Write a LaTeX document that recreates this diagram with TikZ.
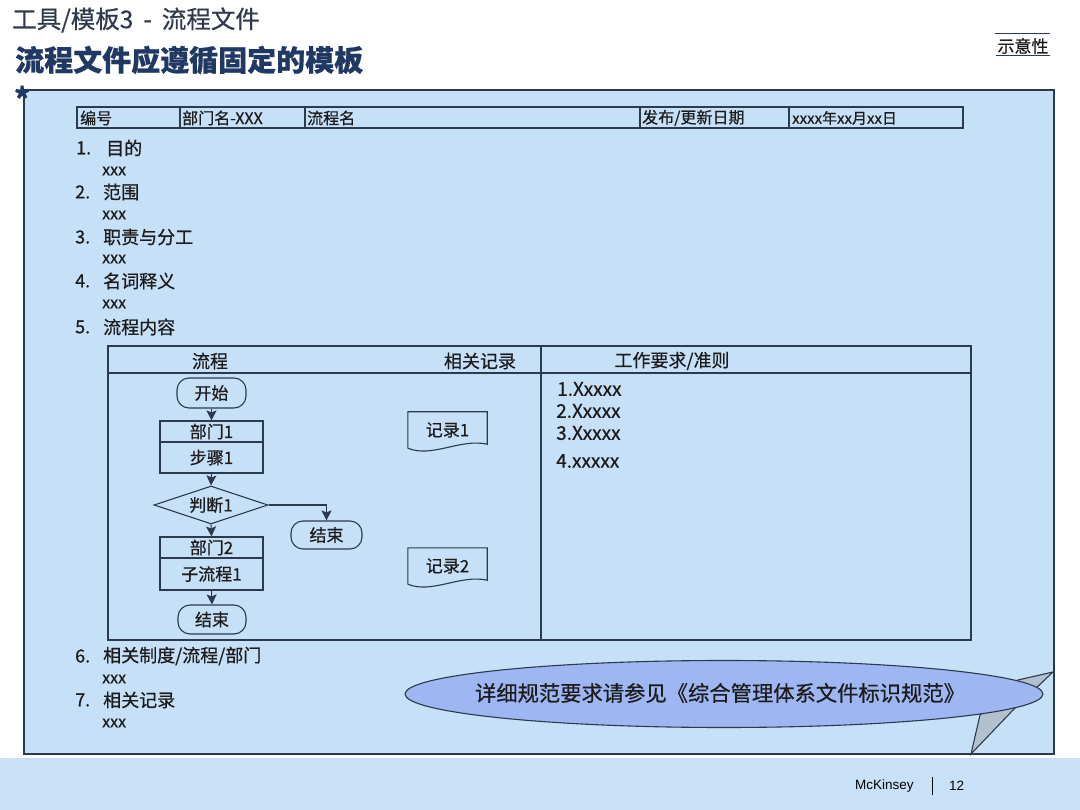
\documentclass[tikz,border=0pt]{standalone}
\usepackage{fontspec}
\setmainfont{Noto Sans CJK SC}[FakeBold=0.6]
\newfontfamily\arialf{Liberation Sans}
\usetikzlibrary{shapes.geometric,arrows.meta,calc}
\definecolor{boxfill}{HTML}{C6E0F8}
\definecolor{bandfill}{HTML}{C9E1F7}
\definecolor{ellfill}{HTML}{9EB6F2}
\definecolor{tailfill}{HTML}{B3C0CE}
\definecolor{linec}{HTML}{2B3A4C}
\definecolor{txtc}{HTML}{1C1C1C}
\definecolor{titlea}{HTML}{2F3B4C}
\definecolor{titleb}{HTML}{1F3864}
\newcommand\myfs[1]{\fontsize{#1}{#1}\selectfont}
\begin{document}
\begin{tikzpicture}[x=1pt,y=-1pt,
  line/.style={draw=linec, line width=1.1pt},
  txt/.style={anchor=west, inner sep=0, text=txtc},
  ctxt/.style={inner sep=0, text=txtc},
  flowbox/.style={draw=linec, line width=1.1pt, fill=boxfill, minimum width=103pt, inner sep=0, text=txtc, font=\myfs{17pt}},
  term/.style={draw=linec, line width=1.1pt, rounded corners=12pt, inner sep=0, text=txtc, font=\myfs{17pt}},
  rec/.style={minimum width=79pt, minimum height=36pt, inner sep=0, text=txtc, font=\myfs{17pt}},
  arr/.style={draw=linec, line width=1.1pt, -{Stealth[length=10pt,width=10pt,inset=2pt]}}
]
\useasboundingbox (0,0) rectangle (1080,810);
\fill[white] (0,0) rectangle (1080,810);
\fill[bandfill] (0,758) rectangle (1080,810);

% main box
\draw[line, line width=1.4pt, fill=boxfill] (24,90) rectangle (1054,754);

% titles
\node[txt, text=titlea, font=\myfs{24.5pt}] (t1) at (12,20) {工具/模板3\hspace{10pt}-\hspace{10pt}流程文件};
\node[txt, text=titleb, font=\bfseries\myfs{29pt}] (t2) at (15,60) {流程文件应遵循固定的模板};
\node[txt, text=titleb, font=\bfseries\myfs{30pt}] (star) at (14,98) {*};
\node[ctxt, font=\myfs{17pt}] (demo) at (1023,46) {示意性};
\draw[linec, line width=0.8pt] (995,33) -- (1050,33);
\draw[linec, line width=0.6pt] (996,55) -- (1050,55);

% header table
\draw[line, line width=1.4pt] (77,107) rectangle (963,128);
\foreach \x in {180,305,640,789} \draw[line] (\x,107) -- (\x,128);
\node[txt, font=\myfs{16pt}] (h1) at (80,118) {编号};
\node[txt, font=\myfs{16pt}] (h2) at (182,118) {部门名-XXX};
\node[txt, font=\myfs{16pt}] (h3) at (307,118) {流程名};
\node[txt, font=\myfs{16pt}] (h4) at (642,118) {发布/更新日期};
\node[txt, font=\myfs{15pt}] (h5) at (792,118) {xxxx年xx月xx日};

% list
\node[txt, font=\myfs{18pt}] (n1) at (76,148) {1.};
\node[txt, font=\myfs{18pt}] (l1) at (106,148) {目的};
\node[txt, font=\myfs{16pt}] (x1) at (102,171) {xxx};
\node[txt, font=\myfs{18pt}] (n2) at (75,192) {2.};
\node[txt, font=\myfs{18pt}] (l2) at (103,192) {范围};
\node[txt, font=\myfs{16pt}] (x2) at (102,215) {xxx};
\node[txt, font=\myfs{18pt}] (n3) at (75,237) {3.};
\node[txt, font=\myfs{18pt}] (l3) at (103,237) {职责与分工};
\node[txt, font=\myfs{16pt}] (x3) at (102,259) {xxx};
\node[txt, font=\myfs{18pt}] (n4) at (75,281) {4.};
\node[txt, font=\myfs{18pt}] (l4) at (103,281) {名词释义};
\node[txt, font=\myfs{16pt}] (x4) at (102,304) {xxx};
\node[txt, font=\myfs{18pt}] (n5) at (75,327) {5.};
\node[txt, font=\myfs{18pt}] (l5) at (103,327) {流程内容};

% process table
\draw[line, line width=1.3pt] (108,346) rectangle (971,640);
\draw[line] (108,373) -- (971,373);
\draw[line] (541,346) -- (541,640);
\node[ctxt, font=\myfs{18pt}] (c1) at (210,361) {流程};
\node[ctxt, font=\myfs{18pt}] (c2) at (480,361) {相关记录};
\node[ctxt, font=\myfs{18pt}] (c3) at (672,361) {工作要求/准则};

% flowchart
\node[term, minimum width=69pt, minimum height=30pt] (start) at (211.5,393) {开始};
\node[flowbox, minimum height=21pt] (dept1) at (211.5,431.5) {部门1};
\node[flowbox, minimum height=31pt] (step1) at (211.5,457.5) {步骤1};
\node[diamond, aspect=3, draw=linec, line width=1.1pt, fill=boxfill, minimum width=114pt, minimum height=38pt, inner sep=0, text=txtc, font=\myfs{17pt}] (dec1) at (211,505) {判断1};
\node[term, minimum width=71pt, minimum height=28pt] (end1) at (326.5,535) {结束};
\node[flowbox, minimum height=21pt] (dept2) at (211.5,547.5) {部门2};
\node[flowbox, minimum height=32pt] (sub1) at (211.5,574) {子流程1};
\node[term, minimum width=68pt, minimum height=29pt] (end2) at (212,619.5) {结束};
\draw[arr] (start.south) -- (dept1.north);
\draw[arr] (step1.south) -- (dec1.north);
\draw[arr] (dec1.south) -- (dept2.north);
\draw[arr] (sub1.south) -- (end2.north);
\draw[arr] (dec1.east) -| (end1.north);

% records
\node[rec] (r1) at (447.5,430) {记录1};
\draw[line] (r1.south west) -- (r1.north west) -- (r1.north east) -- ($(r1.south east)+(0,-4)$)
  .. controls ($(r1.south east)+(-27,-10)$) and ($(r1.south west)+(24,10)$) .. (r1.south west);
\node[rec] (r2) at (447.5,566) {记录2};
\draw[line] (r2.south west) -- (r2.north west) -- (r2.north east) -- ($(r2.south east)+(0,-4)$)
  .. controls ($(r2.south east)+(-27,-10)$) and ($(r2.south west)+(24,10)$) .. (r2.south west);

% requirements
\node[txt, font=\myfs{19pt}] (q1) at (557,389) {1.Xxxxx};
\node[txt, font=\myfs{19pt}] (q2) at (556,411) {2.Xxxxx};
\node[txt, font=\myfs{19pt}] (q3) at (556,433) {3.Xxxxx};
\node[txt, font=\myfs{19pt}] (q4) at (556,461) {4.xxxxx};

% items 6, 7
\node[txt, font=\myfs{18pt}] (n6) at (75,656) {6.};
\node[txt, font=\myfs{18pt}] (l6) at (103,656) {相关制度/流程/部门};
\node[txt, font=\myfs{16pt}] (x6) at (102,679) {xxx};
\node[txt, font=\myfs{18pt}] (n7) at (75,700) {7.};
\node[txt, font=\myfs{18pt}] (l7) at (103,700) {相关记录};
\node[txt, font=\myfs{16pt}] (x7) at (102,723) {xxx};

% callout
\draw[line, fill=tailfill] (1018,680) -- (1053,672) -- (1015,708) -- (971,754) -- (980,715) -- cycle;
\node[ellipse, draw=linec, line width=1.1pt, fill=ellfill, minimum width=638pt, minimum height=67pt, inner sep=0] (callout) at (724,694) {};
\node[ctxt, font=\myfs{21.3pt}] (ctext) at (720,693) {详细规范要求请参见《综合管理体系文件标识规范》};

% footer
\node[txt, font=\arialf\myfs{13.5pt}, text=black] (mck) at (855,786) {McKinsey};
\draw[black, line width=1pt] (932,777) -- (932,795);
\node[txt, font=\arialf\myfs{13.5pt}, text=black] (pg) at (949,786) {12};
\end{tikzpicture}
\end{document}
